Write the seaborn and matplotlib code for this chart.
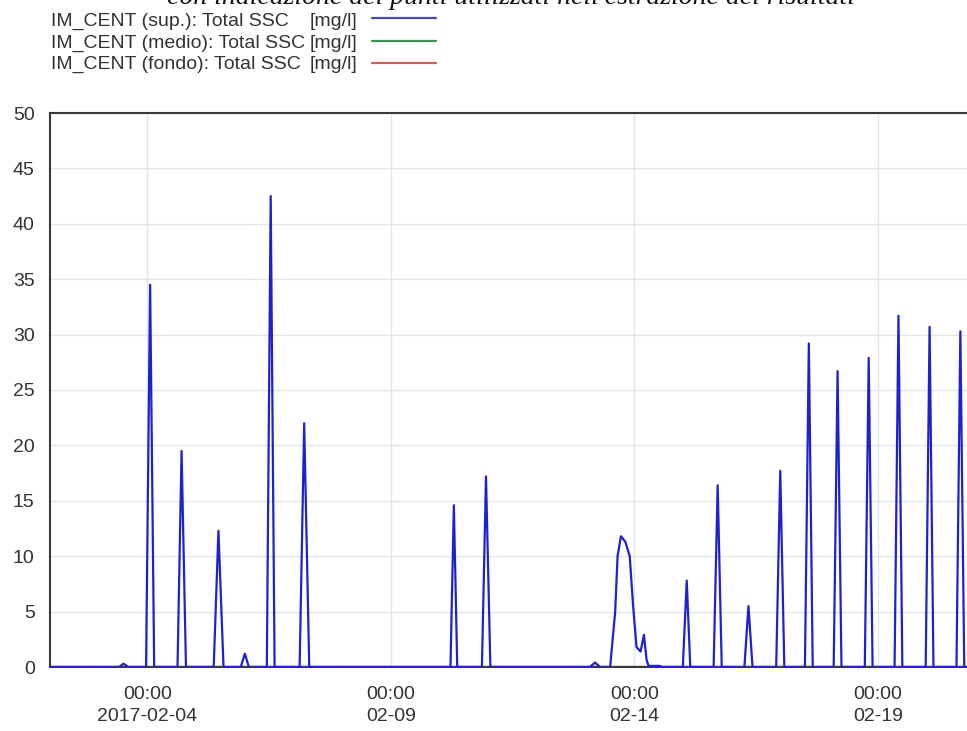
import numpy as np
import pandas as pd
import matplotlib
matplotlib.use("Agg")
import matplotlib.pyplot as plt
import matplotlib.dates as mdates
from matplotlib.lines import Line2D
from matplotlib.ticker import MultipleLocator, FixedLocator
import seaborn as sns

# ---------------- data ----------------
sup_times = [
    "2017-02-02 00:00", "2017-02-03 10:00", "2017-02-03 12:15", "2017-02-03 14:30",
    "2017-02-03 23:20", "2017-02-04 01:20", "2017-02-04 03:20",
    "2017-02-04 14:50", "2017-02-04 16:50", "2017-02-04 19:00",
    "2017-02-05 08:40", "2017-02-05 11:00", "2017-02-05 13:30",
    "2017-02-05 22:00", "2017-02-06 00:00", "2017-02-06 02:00",
    "2017-02-06 10:50", "2017-02-06 12:45", "2017-02-06 14:40",
    "2017-02-07 03:00", "2017-02-07 05:15", "2017-02-07 07:45",
    "2017-02-10 05:20", "2017-02-10 07:00", "2017-02-10 08:40",
    "2017-02-10 20:50", "2017-02-10 22:50", "2017-02-11 01:00",
    "2017-02-13 02:00", "2017-02-13 04:35", "2017-02-13 07:00",
    "2017-02-13 12:00", "2017-02-13 14:30", "2017-02-13 15:40", "2017-02-13 17:20",
    "2017-02-13 19:30", "2017-02-13 21:40", "2017-02-13 23:20", "2017-02-14 01:00",
    "2017-02-14 03:00", "2017-02-14 04:40", "2017-02-14 06:00", "2017-02-14 07:00",
    "2017-02-14 12:30", "2017-02-14 13:30",
    "2017-02-14 23:50", "2017-02-15 01:45", "2017-02-15 03:30",
    "2017-02-15 15:00", "2017-02-15 17:00", "2017-02-15 19:00",
    "2017-02-16 06:10", "2017-02-16 08:10", "2017-02-16 10:10",
    "2017-02-16 21:50", "2017-02-16 23:50", "2017-02-17 01:50",
    "2017-02-17 12:00", "2017-02-17 13:55", "2017-02-17 15:50",
    "2017-02-18 02:10", "2017-02-18 04:05", "2017-02-18 06:00",
    "2017-02-18 17:30", "2017-02-18 19:25", "2017-02-18 21:20",
    "2017-02-19 08:10", "2017-02-19 10:05", "2017-02-19 12:00",
    "2017-02-19 23:30", "2017-02-20 01:25", "2017-02-20 03:20",
    "2017-02-20 14:40", "2017-02-20 16:35", "2017-02-20 18:30",
    "2017-02-20 21:00",
]
sup_values = [
    0, 0, 0.3, 0,
    0, 34.5, 0,
    0, 19.5, 0,
    0, 12.3, 0,
    0, 1.2, 0,
    0, 42.5, 0,
    0, 22.0, 0,
    0, 14.6, 0,
    0, 17.2, 0,
    0, 0.4, 0,
    0, 5.0, 10.0, 11.8,
    11.3, 10.0, 5.5, 1.8,
    1.4, 2.9, 0.6, 0.1,
    0.1, 0,
    0, 7.8, 0,
    0, 16.4, 0,
    0, 5.5, 0,
    0, 17.7, 0,
    0, 29.2, 0,
    0, 26.7, 0,
    0, 27.9, 0,
    0, 31.7, 0,
    0, 30.7, 0,
    0, 30.3, 0,
    0,
]
medio_times = ["2017-02-02 00:00", "2017-02-20 21:00"]
medio_values = [0, 0]
fondo_times = ["2017-02-02 00:00", "2017-02-20 21:00"]
fondo_values = [0, 0]

series_labels = ["IM_CENT (sup.): Total SSC", "IM_CENT (medio): Total SSC",
                 "IM_CENT (fondo): Total SSC"]
unit_label = "[mg/l]"
series_colors = ["#2020d0", "#2a9a3a", "#e83030"]
legend_colors = ["#4a4ab0", "#3f8f55", "#d85a5a"]

xtick_dates = ["2017-02-04", "2017-02-09", "2017-02-14", "2017-02-19"]
xtick_labels = ["00:00\n2017-02-04", "00:00\n02-09", "00:00\n02-14", "00:00\n02-19"]
x_range = ["2017-02-02 00:00", "2017-02-20 21:20"]
y_range = [0, 50]

caption = "con indicazione dei punti utilizzati nell'estrazione dei risultati"

# ---------------- figure ----------------
sns.set_style("white")
plt.rcParams["font.family"] = ["Liberation Sans", "DejaVu Sans"]

W, H = 967, 731
fig = plt.figure(figsize=(W / 100, H / 100), dpi=100)
ax = fig.add_axes([50 / W, 1 - 667 / H, 920 / W, (667 - 113) / H])

df = pd.concat([
    pd.DataFrame({"t": pd.to_datetime(fondo_times), "v": fondo_values, "s": series_labels[2]}),
    pd.DataFrame({"t": pd.to_datetime(medio_times), "v": medio_values, "s": series_labels[1]}),
    pd.DataFrame({"t": pd.to_datetime(sup_times), "v": sup_values, "s": series_labels[0]}),
])
pal = {series_labels[i]: series_colors[i] for i in range(3)}
sns.lineplot(data=df, x="t", y="v", hue="s", palette=pal, ax=ax, legend=False,
             linewidth=1.6, estimator=None, sort=False)
for ln in ax.get_lines():
    ln.set_zorder(3 if ln.get_color() == series_colors[0] else 2)

ax.set_xlim(pd.to_datetime(x_range[0]), pd.to_datetime(x_range[1]))
ax.set_ylim(*y_range)
ax.set_xlabel("")
ax.set_ylabel("")

ax.xaxis.set_major_locator(FixedLocator(mdates.date2num(pd.to_datetime(xtick_dates))))
ax.set_xticklabels(xtick_labels)
ax.xaxis.set_minor_locator(mdates.HourLocator(byhour=[0, 12]))
ax.yaxis.set_major_locator(MultipleLocator(5))
ax.yaxis.set_minor_locator(MultipleLocator(1))

ax.grid(True, which="major", color="#dfe6ee", linewidth=1.0)
ax.set_axisbelow(True)
for sp in ax.spines.values():
    sp.set_color("#3a3a3a")
    sp.set_linewidth(1.5)

ax.tick_params(axis="both", which="major", direction="out", length=6, width=1,
               color="#555555", labelsize=14, labelcolor="#333333")
ax.tick_params(axis="both", which="minor", direction="out", length=4, width=0.8,
               color="#777777")
ax.tick_params(axis="y", which="major", pad=5)
ax.tick_params(axis="x", which="major", pad=8)
for lab in ax.get_xticklabels():
    lab.set_linespacing(1.35)

# legend drawn at top-left
row_base = [26, 47.5, 69]
line_y = [18, 41, 63]
for i in range(3):
    yy = 1 - row_base[i] / H
    fig.text(51 / W, yy, series_labels[i], ha="left", va="baseline",
             fontsize=14, color="#333333")
    fig.text(357 / W, yy, unit_label, ha="right", va="baseline",
             fontsize=14, color="#333333")
    ly = 1 - line_y[i] / H
    fig.add_artist(Line2D([372 / W, 436 / W], [ly, ly], color=legend_colors[i],
                          linewidth=1.6, transform=fig.transFigure))

# cut-off caption at the very top
fig.text(167 / W, 1 - 4 / H, caption, ha="left", va="baseline",
         fontsize=20, style="italic", family=["Liberation Serif", "DejaVu Serif"],
         color="#111111")

fig.savefig("out.png", dpi=100)
